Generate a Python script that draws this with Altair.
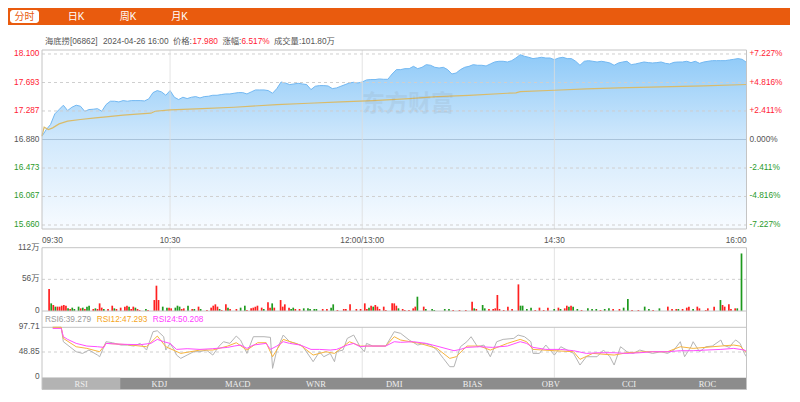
import altair as alt
import pandas as pd

FONT = "'Liberation Sans', 'Noto Sans CJK SC', sans-serif"
SERIF = "'Liberation Serif', 'DejaVu Serif', serif"

# ---------------- header / title ----------------
tabs = ["分时", "日K", "周K", "月K"]
stock_name = "海底捞[06862]"
stamp = "2024-04-26 16:00"
last_price = "17.980"
change_pct = "6.517%"
last_volume = "成交量:101.80万"

# ---------------- price panel ----------------
price_ticks = [18.100, 17.693, 17.287, 16.880, 16.473, 16.067, 15.660]
price_tick_colors = ["#f23", "#f23", "#f23", "#555", "#2a9a2a", "#2a9a2a", "#2a9a2a"]
pct_labels = ["+7.227%", "+4.816%", "+2.411%", "0.000%", "-2.411%", "-4.816%", "-7.227%"]
time_minutes = [0, 60, 150, 240, 330]
time_labels = ["09:30", "10:30", "12:00/13:00", "14:30", "16:00"]

price_minutes = list(range(0, 331, 2))
price_values = [
    16.927, 17.022, 17.094, 17.245, 17.307, 17.369, 17.293, 17.340, 17.369, 17.355,
    17.283, 17.307, 17.312, 17.320, 17.283, 17.378, 17.426, 17.426, 17.416, 17.435,
    17.426, 17.435, 17.435, 17.435, 17.430, 17.459, 17.549, 17.578, 17.559, 17.511,
    17.578, 17.483, 17.450, 17.483, 17.464, 17.483, 17.492, 17.473, 17.492, 17.497,
    17.511, 17.511, 17.521, 17.530, 17.530, 17.540, 17.549, 17.549, 17.530, 17.559,
    17.587, 17.587, 17.587, 17.578, 17.540, 17.606, 17.700, 17.687, 17.663, 17.673,
    17.682, 17.673, 17.663, 17.592, 17.640, 17.649, 17.649, 17.644, 17.606, 17.616,
    17.640, 17.663, 17.687, 17.696, 17.687, 17.700, 17.730, 17.735, 17.735, 17.744,
    17.739, 17.739, 17.815, 17.877, 17.877, 17.891, 17.891, 17.924, 17.891, 17.910,
    17.948, 17.939, 17.910, 17.900, 17.910, 17.877, 17.815, 17.829, 17.877, 17.910,
    17.924, 17.948, 17.939, 17.939, 17.929, 17.958, 17.986, 17.996, 17.996, 17.986,
    18.005, 18.043, 18.090, 18.067, 18.053, 18.034, 18.043, 18.053, 18.043, 18.043,
    18.019, 18.043, 18.053, 18.034, 18.034, 17.996, 17.939, 17.996, 18.005, 17.996,
    17.986, 17.996, 17.986, 17.972, 17.939, 17.972, 17.986, 17.996, 17.948, 17.958,
    17.972, 17.986, 17.977, 17.972, 17.977, 17.986, 17.967, 17.958, 17.981, 17.986,
    17.986, 17.996, 17.977, 17.996, 17.967, 17.986, 17.996, 18.005, 18.005, 18.005,
    18.005, 18.015, 18.024, 18.034, 18.024, 17.980,
]
avg_minutes = [0, 1, 3, 5, 8, 12, 18, 25, 30, 38, 46, 51, 53, 60, 75, 90, 110, 125,
               140, 155, 172, 185, 200, 218, 222, 224, 240, 255, 270, 290, 310, 330]
avg_values = [16.930, 17.056, 17.022, 17.046, 17.103, 17.141, 17.165, 17.189, 17.203,
              17.227, 17.246, 17.255, 17.283, 17.302, 17.320, 17.340, 17.378, 17.397,
              17.416, 17.435, 17.464, 17.492, 17.511, 17.540, 17.545, 17.564, 17.583,
              17.602, 17.616, 17.630, 17.644, 17.665]

# ---------------- volume panel (万) ----------------
vol_minutes = [1, 2, 3, 4, 5, 6, 7, 8, 9, 10, 11, 12, 13, 15, 16, 17, 18, 19, 20, 22,
               23, 24, 25, 26, 27, 29, 31, 32, 33, 35, 37, 38, 39, 40, 41, 42, 43, 44, 47, 48,
               51, 52, 53, 55, 57, 58, 59, 61, 62, 63, 64, 65, 67, 69, 70, 72, 73, 76, 78, 79,
               80, 81, 82, 83, 85, 86, 87, 90, 92, 94, 95, 97, 98, 99, 100, 102, 103, 105, 106, 107,
               108, 111, 112, 113, 115, 116, 117, 118, 120, 122, 124, 125, 127, 128, 131, 133, 135, 136, 138, 141,
               142, 144, 147, 149, 151, 152, 153, 154, 155, 156, 157, 158, 160, 161, 164, 165, 166, 167, 169, 170,
               172, 174, 175, 176, 179, 180, 183, 184, 189, 191, 193, 196, 199, 202, 203, 204, 207, 208, 210, 212,
               213, 214, 215, 217, 219, 221, 224, 225, 226, 228, 230, 232, 234, 236, 238, 241, 243, 244, 246, 247,
               248, 249, 250, 252, 254, 257, 259, 261, 263, 265, 267, 269, 272, 274, 276, 278, 281, 284, 286, 288,
               291, 295, 297, 299, 300, 302, 304, 305, 307, 309, 310, 313, 314, 317, 320, 321, 322, 324, 325, 327,
               328, 330]
vol_values = [38.9, 13.5, 10.6, 7.7, 7.7, 7.7, 9.4, 10.6, 9.4, 4.7, 3.5, 5.9, 3.5, 7.7, 4.7, 5.9, 3.5, 7.7, 9.4, 3.5,
              4.7, 3.5, 13.5, 5.9, 3.5, 3.5, 9.4, 4.7, 3.5, 5.9, 7.7, 9.4, 7.7, 3.5, 7.7, 5.9, 3.5, 1.8, 3.5, 1.8,
              19.4, 44.8, 19.4, 7.7, 5.9, 5.9, 4.7, 5.9, 9.4, 7.7, 3.5, 4.7, 9.4, 3.5, 3.5, 7.7, 3.5, 1.8, 5.9, 9.4,
              11.8, 7.7, 3.5, 1.8, 11.8, 5.9, 3.5, 3.5, 5.9, 9.4, 1.8, 4.7, 5.9, 7.7, 9.4, 5.9, 3.5, 15.3, 5.9, 13.5,
              5.9, 19.4, 7.7, 11.8, 5.9, 3.5, 5.9, 3.5, 3.5, 4.7, 4.7, 3.5, 3.5, 3.5, 3.5, 3.5, 5.9, 11.8, 1.8, 3.5,
              3.5, 11.8, 3.5, 3.5, 13.5, 3.5, 5.9, 9.4, 7.7, 10.6, 7.7, 3.5, 7.7, 1.8, 13.5, 13.5, 9.4, 4.7, 3.5, 1.8,
              1.8, 4.7, 7.7, 25.3, 7.7, 3.5, 3.5, 1.8, 3.5, 3.5, 1.8, 1.8, 1.8, 16.5, 4.7, 3.5, 10.6, 4.7, 3.5, 3.5,
              4.7, 28.3, 3.5, 1.8, 7.7, 3.5, 47.1, 9.4, 9.4, 3.5, 5.9, 1.8, 5.9, 1.8, 5.9, 3.5, 5.9, 3.5, 4.7, 9.4,
              7.7, 9.4, 7.7, 3.5, 1.8, 4.7, 3.5, 3.5, 1.8, 3.5, 4.7, 3.5, 3.5, 5.9, 21.2, 1.8, 1.8, 7.7, 3.5, 1.8,
              4.7, 7.7, 3.5, 3.5, 3.5, 3.5, 5.9, 7.7, 3.5, 7.7, 4.7, 1.8, 4.7, 7.7, 19.4, 10.6, 7.7, 11.8, 3.5, 4.7,
              4.7, 101.8]
# u = up (red), d = down (green); one row of 20 per row above
vol_dir_rows = [
    "ududuuuuud" "udddududdu",
    "duuuduuduu" "uuduuduudu",
    "uuudduuddd" "uudududuuu",
    "uuduuduudd" "uuuuuuduud",
    "uuuuudduud" "dddduudduu",
    "uuuuuududu" "uuuuuuuduu",
    "uuududdddd" "uuuududduu",
    "uuuuuuuddd" "duuuududuu",
    "duddudddud" "duudduuddu",
    "duuuduuudu" "uuuuduuuuu",
    "dd",
]
vol_dirs = list("".join(vol_dir_rows))

vol_ticks = [112, 56, 0]
vol_tick_labels = ["112万", "56万", "0"]

# ---------------- RSI panel ----------------
rsi_ticks = [97.71, 48.85, 0]
rsi_tick_labels = ["97.71", "48.85", "0"]
rsi6_minutes = [5, 9, 10, 16, 19, 22, 26, 27, 30, 33, 37, 40, 43, 46, 49, 52, 54, 57, 58, 60,
                62, 63, 65, 68, 71, 74, 77, 80, 83, 85, 88, 91, 93, 96, 99, 104, 107, 108, 110, 113,
                116, 119, 122, 126, 127, 130, 132, 135, 137, 138, 141, 143, 146, 149, 151, 152, 155, 161, 165, 168,
                172, 176, 179, 182, 185, 188, 191, 193, 196, 199, 201, 204, 207, 210, 213, 216, 221, 223, 226, 229,
                230, 233, 236, 240, 243, 246, 249, 252, 255, 260, 263, 266, 268, 271, 274, 277, 280, 283, 286, 290,
                293, 296, 299, 301, 304, 305, 308, 311, 314, 318, 319, 322, 324, 325, 327, 329, 330]
rsi6_values = [97.7, 97.7, 69.2, 49.4, 46.1, 52.7, 42.8, 39.5, 69.2, 67.2, 62.6, 62.6, 60.6, 65.9, 52.7, 89.0, 90.9, 79.1, 52.7, 65.9,
               52.7, 42.8, 36.2, 42.8, 49.4, 49.4, 52.7, 42.8, 60.6, 69.2, 65.9, 80.4, 72.5, 46.1, 79.1, 79.1, 77.8, 16.5, 52.7, 82.4,
               69.2, 65.9, 60.6, 36.2, 29.7, 49.4, 39.5, 46.1, 29.7, 49.4, 52.7, 75.8, 82.4, 59.3, 49.4, 65.9, 60.6, 60.6, 89.0, 85.7,
               72.5, 62.6, 65.9, 62.6, 52.7, 36.2, 19.8, 19.8, 59.3, 69.2, 79.1, 59.3, 62.6, 39.5, 69.2, 73.8, 75.8, 82.4, 79.1, 69.2,
               46.1, 46.1, 62.6, 42.8, 59.3, 52.7, 46.1, 23.1, 39.5, 39.5, 52.7, 39.5, 23.1, 59.3, 49.4, 46.1, 52.7, 49.4, 46.1, 49.4,
               46.1, 52.7, 69.2, 39.5, 59.3, 69.2, 49.4, 59.3, 60.6, 72.5, 62.6, 58.0, 69.2, 72.5, 65.9, 46.1, 39.279]
rsi12_minutes = [5, 9, 10, 16, 21, 27, 30, 40, 49, 54, 58, 65, 74, 80, 87, 91, 96, 101, 105, 108,
                 113, 121, 127, 133, 137, 144, 149, 161, 165, 168, 177, 185, 191, 194, 199, 205, 210, 218, 224, 227,
                 230, 240, 249, 252, 258, 268, 274, 283, 293, 299, 305, 318, 324, 327, 330]
rsi12_values = [97.7, 97.7, 75.8, 59.3, 56.0, 49.4, 65.9, 63.3, 59.3, 80.4, 59.3, 46.1, 52.7, 52.7, 60.6, 67.2, 52.7, 67.2, 67.2, 39.5,
                73.8, 62.6, 42.8, 49.4, 46.1, 69.2, 60.6, 60.6, 79.1, 72.5, 65.9, 56.0, 36.2, 39.5, 60.6, 60.6, 52.7, 65.9, 73.8, 69.2,
                54.0, 51.4, 49.4, 34.3, 46.1, 42.8, 47.4, 49.4, 49.4, 59.3, 56.0, 60.6, 62.6, 60.6, 47.293]
rsi24_minutes = [5, 9, 10, 12, 16, 21, 26, 29, 30, 35, 40, 46, 51, 54, 57, 60, 63, 68, 74, 80,
                 87, 90, 93, 96, 99, 105, 107, 110, 113, 116, 121, 126, 130, 135, 138, 143, 146, 149, 152, 161,
                 165, 168, 174, 180, 186, 193, 196, 199, 205, 211, 218, 224, 227, 230, 236, 243, 249, 255, 261, 268,
                 274, 280, 286, 293, 299, 305, 311, 318, 324, 329, 330]
rsi24_values = [95.5, 95.5, 79.1, 73.8, 65.9, 60.6, 59.3, 58.0, 65.9, 64.6, 63.9, 63.3, 65.9, 73.8, 69.2, 65.9, 54.0, 55.4, 54.0, 55.4,
                58.0, 60.6, 62.6, 56.0, 62.6, 65.9, 54.0, 60.6, 69.2, 65.9, 62.6, 54.0, 54.0, 52.7, 54.0, 62.6, 65.9, 59.3, 60.6, 60.6,
                69.2, 68.0, 69.2, 65.9, 59.3, 51.4, 54.0, 58.0, 59.3, 58.0, 60.6, 69.2, 65.9, 58.0, 54.0, 54.0, 51.4, 46.1, 47.4, 47.4,
                46.1, 47.4, 49.4, 49.4, 51.4, 51.4, 52.7, 54.0, 56.0, 52.7, 50.208]
rsi_legend = ["RSI6:39.279", "RSI12:47.293", "RSI24:50.208"]
indicator_tabs = ["RSI", "KDJ", "MACD", "WNR", "DMI", "BIAS", "OBV", "CCI", "ROC"]

assert len(price_values) == len(price_minutes)
assert len(avg_values) == len(avg_minutes)
assert len(vol_values) == len(vol_minutes) == len(vol_dirs), (len(vol_values), len(vol_minutes), len(vol_dirs))
assert len(rsi6_values) == len(rsi6_minutes)
assert len(rsi12_values) == len(rsi12_minutes)
assert len(rsi24_values) == len(rsi24_minutes)

# ---------------- layout (page pixels) ----------------
X0, X1 = 42, 746.5
XS = alt.Scale(domain=[0, 330], range=[X0, X1], nice=False, zero=False)
PS = alt.Scale(domain=[15.603, 18.157], range=[229, 50], nice=False, zero=False)
VS = alt.Scale(domain=[0, 112], range=[311, 247.7], nice=False)
RS = alt.Scale(domain=[0, 97.71], range=[376.7, 327.3], nice=False)
ORANGE = "#e95b0e"
GRID = "#cfcfcf"
BORDER = "#c4c4c4"


def text(s, x, y, color, size=8, align="left", font=FONT, weight="normal", opacity=1.0):
    return alt.Chart(pd.DataFrame({"t": [s]})).mark_text(
        align=align, baseline="middle", fontSize=size, font=font, color=color,
        fontWeight=weight, opacity=opacity
    ).encode(x=alt.value(x), y=alt.value(y), text="t:N")


def box(x0, x1, y0, y1, fill=None, stroke=None, radius=0, opacity=1.0):
    kw = dict(cornerRadius=radius)
    if fill is not None:
        kw["fill"] = fill
        kw["opacity"] = opacity
    else:
        kw["fillOpacity"] = 0
    if stroke is not None:
        kw["stroke"] = stroke
        kw["strokeWidth"] = 1
    return alt.Chart(pd.DataFrame({"a": [0]})).mark_rect(**kw).encode(
        x=alt.value(x0), x2=alt.value(x1), y=alt.value(y0), y2=alt.value(y1))


def hline(y, x0=X0, x1=X1, color=BORDER):
    return alt.Chart(pd.DataFrame({"a": [0]})).mark_rule(color=color, strokeWidth=1).encode(
        x=alt.value(x0), x2=alt.value(x1), y=alt.value(y))


layers = []

# header (the page's 8px margin hides anything above/left of 8px)
layers.append(box(8, 790, 8, 25, fill=ORANGE))
layers.append(box(10, 39, 10, 23, fill="white", radius=3))
tab_x = [24.5, 76, 128, 179.5]
for i, t in enumerate(tabs):
    layers.append(text(t, tab_x[i], 16.5, ORANGE if i == 0 else "white", size=10, align="center"))

# title line
layers.append(text(stock_name, 45, 41.5, "#555", size=8.3))
layers.append(text(stamp, 103, 41.5, "#555", size=8.3))
layers.append(text("价格:", 173, 41.5, "#555", size=8.3))
layers.append(text(last_price, 192.5, 41.5, "#f23", size=8.3))
layers.append(text("涨幅:", 222.5, 41.5, "#555", size=8.3))
layers.append(text(change_pct, 241.5, 41.5, "#f23", size=8.3))
layers.append(text(last_volume, 274, 41.5, "#555", size=8.3))

# price panel
price_df = pd.DataFrame({"m": price_minutes, "p": price_values})
avg_df = pd.DataFrame({"m": avg_minutes, "p": avg_values})
grad = alt.Gradient(
    gradient="linear",
    stops=[alt.GradientStop(color="#f7fbff", offset=0),
           alt.GradientStop(color="#d2e9fc", offset=0.5),
           alt.GradientStop(color="#8fcaf8", offset=1)],
    x1=1, x2=1, y1=1, y2=0)
layers.append(alt.Chart(price_df).mark_area(color=grad, interpolate="linear").encode(
    x=alt.X("m:Q", scale=XS, axis=None),
    y=alt.Y("p:Q", scale=PS, axis=None),
    y2=alt.datum(15.603)))
layers.append(alt.Chart(price_df).mark_line(color="#72b8f2", strokeWidth=1).encode(
    x=alt.X("m:Q", scale=XS, axis=None), y=alt.Y("p:Q", scale=PS, axis=None)))

grid_df = pd.DataFrame({"v": [p for p in price_ticks if p != 16.880]})
layers.append(alt.Chart(grid_df).mark_rule(color=GRID, strokeDash=[3, 3], strokeWidth=1).encode(
    y=alt.Y("v:Q", scale=PS, axis=None), x=alt.value(X0), x2=alt.value(X1)))
layers.append(alt.Chart(pd.DataFrame({"v": [16.880]})).mark_rule(color="#a9c3da", strokeWidth=1).encode(
    y=alt.Y("v:Q", scale=PS, axis=None), x=alt.value(X0), x2=alt.value(X1)))

vgrid_df = pd.DataFrame({"m": time_minutes[1:4]})
for y0, y1 in [(50, 229), (247.7, 311), (327.3, 377.7)]:
    layers.append(alt.Chart(vgrid_df).mark_rule(color="#dddddd", strokeWidth=1, opacity=0.8).encode(
        x=alt.X("m:Q", scale=XS, axis=None), y=alt.value(y0), y2=alt.value(y1)))

layers.append(alt.Chart(avg_df).mark_line(color="#d9bb6a", strokeWidth=1.2).encode(
    x=alt.X("m:Q", scale=XS, axis=None), y=alt.Y("p:Q", scale=PS, axis=None)))

# watermark
layers.append(text("东方财富", 408, 104, "#7a7a7a", size=23, align="center", weight="bold", opacity=0.11))

layers.append(box(X0, X1, 50, 229, stroke=BORDER))

# price axis labels
lab_df = pd.DataFrame({"v": price_ticks, "t": [f"{p:.3f}" for p in price_ticks],
                       "pct": pct_labels, "c": price_tick_colors})
layers.append(alt.Chart(lab_df).mark_text(align="right", baseline="middle", fontSize=8.3, font=FONT).encode(
    y=alt.Y("v:Q", scale=PS, axis=None), x=alt.value(39.5), text="t:N",
    color=alt.Color("c:N", scale=None)))
layers.append(alt.Chart(lab_df).mark_text(align="left", baseline="middle", fontSize=8.3, font=FONT).encode(
    y=alt.Y("v:Q", scale=PS, axis=None), x=alt.value(749.5), text="pct:N",
    color=alt.Color("c:N", scale=None)))

# time labels
tdf = pd.DataFrame({"m": time_minutes, "t": time_labels})
for sub, al in [(tdf.iloc[:1], "left"), (tdf.iloc[1:4], "center"), (tdf.iloc[4:], "right")]:
    layers.append(alt.Chart(sub).mark_text(align=al, baseline="middle", fontSize=8.3, font=FONT,
                                           color="#555").encode(
        x=alt.X("m:Q", scale=XS, axis=None), y=alt.value(240.5), text="t:N"))

# volume panel
vol_df = pd.DataFrame({"m": vol_minutes, "v": vol_values, "d": vol_dirs})
layers.append(alt.Chart(pd.DataFrame({"v": [56]})).mark_rule(color=GRID, strokeDash=[3, 3]).encode(
    y=alt.Y("v:Q", scale=VS, axis=None), x=alt.value(X0), x2=alt.value(X1)))
layers.append(alt.Chart(vol_df).mark_bar(size=1.7).encode(
    x=alt.X("m:Q", scale=XS, axis=None),
    y=alt.Y("v:Q", scale=VS, axis=None),
    color=alt.Color("d:N", scale=alt.Scale(domain=["u", "d"], range=["#ff2020", "#1e9a1e"]), legend=None)))
vlab = pd.DataFrame({"v": vol_ticks, "t": vol_tick_labels})
layers.append(alt.Chart(vlab).mark_text(align="right", baseline="middle", fontSize=8.3, font=FONT,
                                        color="#555").encode(
    y=alt.Y("v:Q", scale=VS, axis=None), x=alt.value(39.5), text="t:N"))

# RSI panel
layers.append(hline(311))
layers.append(hline(327.3))
layers.append(alt.Chart(pd.DataFrame({"v": [48.85]})).mark_rule(color=GRID, strokeDash=[3, 3]).encode(
    y=alt.Y("v:Q", scale=RS, axis=None), x=alt.value(X0), x2=alt.value(X1)))
for mins, vals, col in [(rsi6_minutes, rsi6_values, "#b4b4b4"),
                        (rsi12_minutes, rsi12_values, "#f7b43c"),
                        (rsi24_minutes, rsi24_values, "#ff4dff")]:
    layers.append(alt.Chart(pd.DataFrame({"m": mins, "r": vals})).mark_line(color=col, strokeWidth=1).encode(
        x=alt.X("m:Q", scale=XS, axis=None), y=alt.Y("r:Q", scale=RS, axis=None)))
rlab = pd.DataFrame({"v": rsi_ticks, "t": rsi_tick_labels})
layers.append(alt.Chart(rlab).mark_text(align="right", baseline="middle", fontSize=8.3, font=FONT,
                                        color="#555").encode(
    y=alt.Y("v:Q", scale=RS, axis=None), x=alt.value(39.5), text="t:N"))
for s, x, c in zip(rsi_legend, [45, 96.7, 152.7], ["#9a9a9a", "#f5a623", "#ff40ff"]):
    layers.append(text(s, x, 320, c, size=8.3))

# indicator tab bar
layers.append(box(X0, X1, 377.7, 389.5, fill="#8c8c8c"))
layers.append(box(X0, X0 + (X1 - X0) / 9, 377.7, 389.5, fill="#b3b3b3"))
tab_df = pd.DataFrame({"i": [i + 0.5 for i in range(9)], "t": indicator_tabs})
layers.append(alt.Chart(tab_df).mark_text(align="center", baseline="middle", fontSize=8.5, font=SERIF,
                                          color="#f0f0f0").encode(
    x=alt.X("i:Q", scale=alt.Scale(domain=[0, 9], range=[X0, X1], nice=False, zero=False), axis=None),
    y=alt.value(384), text="t:N"))

layers.append(box(X0, X1, 247.7, 389.5, stroke=BORDER))

chart = alt.layer(*layers).resolve_scale(
    x="independent", y="independent", color="independent"
).properties(
    width=800, height=402,
    autosize=alt.AutoSizeParams(type="none"),
    padding={"left": -8, "top": -8, "right": -8, "bottom": -8},
    background="white",
).configure_view(strokeWidth=0)

chart.save("out.html", embed_options={"renderer": "svg", "actions": False})
